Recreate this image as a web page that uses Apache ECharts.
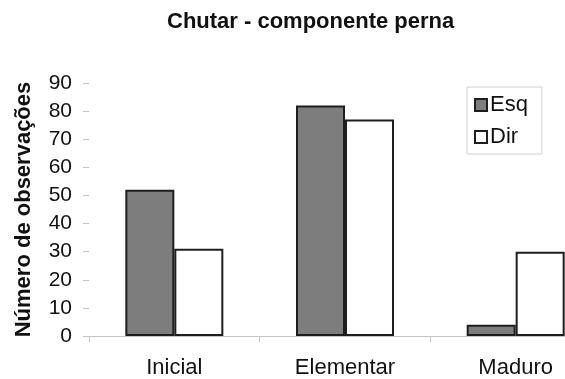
<!DOCTYPE html>
<html>
<head>
<meta charset="utf-8">
<script src="https://cdn.jsdelivr.net/npm/echarts@6/dist/echarts.min.js"></script>
<style>
  html, body { margin: 0; padding: 0; background: #fff; }
  #chart { width: 565px; height: 379px; }
</style>
</head>
<body>
<div id="chart"></div>
<script>
// Observações de chute (componente perna), por estágio e por perna
const categories = ['Inicial', 'Elementar', 'Maduro'];
const esq = [52, 82, 4];
const dir = [31, 77, 30];
const yTicks = { min: 0, max: 90, interval: 10 };

const FONT = '"Liberation Sans", Arial, Helvetica, sans-serif';

const chart = echarts.init(document.getElementById('chart'), null, { renderer: 'canvas' });

chart.setOption({
  backgroundColor: '#ffffff',
  animation: false,
  title: {
    text: 'Chutar - componente perna',
    left: 162,
    top: 6,
    textStyle: { fontFamily: FONT, fontSize: 22, fontWeight: 'bold', color: '#111' }
  },
  legend: {
    orient: 'vertical',
    left: 467,
    top: 87,
    padding: [7, 14, 6, 7],
    itemGap: 10,
    itemWidth: 12,
    itemHeight: 12,
    icon: 'rect',
    borderColor: '#d0d0d0',
    borderWidth: 1,
    textStyle: { fontFamily: FONT, fontSize: 22, color: '#111', padding: [0, 0, 0, -2] },
    data: ['Esq', 'Dir']
  },
  grid: {
    left: 89, right: -36, top: 83, bottom: 43,
    containLabel: false,
    outerBoundsMode: 'none'
  },
  xAxis: {
    type: 'category',
    data: categories,
    axisLine: { show: true, lineStyle: { color: '#c4c4c4', width: 1 } },
    axisTick: { show: true, length: 6, lineStyle: { color: '#c4c4c4' } },
    axisLabel: { margin: 21, fontFamily: FONT, fontSize: 22, color: '#111' },
    splitLine: { show: false }
  },
  yAxis: {
    type: 'value',
    min: yTicks.min,
    max: yTicks.max,
    interval: yTicks.interval,
    name: 'Número de observações',
    nameLocation: 'middle',
    nameGap: 54,
    nameTextStyle: { fontFamily: FONT, fontSize: 22, fontWeight: 'bold', color: '#111' },
    axisLine: { show: false },
    axisTick: { show: true, length: 6, lineStyle: { color: '#c4c4c4' } },
    axisLabel: { margin: 17, fontFamily: FONT, fontSize: 21, color: '#111' },
    splitLine: { show: false }
  },
  series: [
    {
      name: 'Esq',
      type: 'bar',
      data: esq,
      barWidth: 49,
      barGap: '0%',
      itemStyle: { color: '#7d7d7d', borderColor: '#1e1e1e', borderWidth: 2 }
    },
    {
      name: 'Dir',
      type: 'bar',
      data: dir,
      barWidth: 49,
      barGap: '0%',
      itemStyle: { color: '#ffffff', borderColor: '#1e1e1e', borderWidth: 2 }
    }
  ]
});
</script>
</body>
</html>
